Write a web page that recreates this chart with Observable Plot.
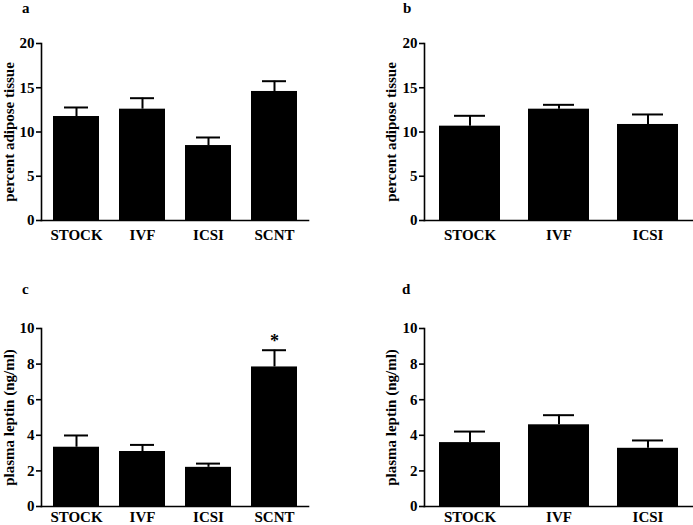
<!DOCTYPE html>
<html><head><meta charset="utf-8">
<script src="https://cdn.jsdelivr.net/npm/d3@7"></script>
<script src="https://cdn.jsdelivr.net/npm/@observablehq/plot@0.6"></script>
<style>
body{margin:0;background:#fff;}
#root{position:relative;width:693px;height:525px;overflow:hidden;font-family:"Liberation Serif","Times New Roman",serif;}
.panel{position:absolute;}
.lab{position:absolute;font-weight:bold;font-size:15px;line-height:1;font-family:"Liberation Serif","Times New Roman",serif;}
</style></head><body><div id="root"></div>
<script>
// Data
const groupsA = ["STOCK", "IVF", "ICSI", "SCNT"];
const groupsB = ["STOCK", "IVF", "ICSI"];
const adiposeA = [11.75, 12.58, 8.47, 14.58];
const adiposeASem = [1.02, 1.24, 0.91, 1.16];
const adiposeB = [10.66, 12.58, 10.85];
const adiposeBSem = [1.17, 0.49, 1.13];
const leptinC = [3.33, 3.09, 2.20, 7.84];
const leptinCSem = [0.66, 0.37, 0.21, 0.94];
const leptinD = [3.59, 4.59, 3.27];
const leptinDSem = [0.62, 0.54, 0.44];
const adiposeTicks = [0, 5, 10, 15, 20];
const leptinTicks = [0, 2, 4, 6, 8, 10];
const adiposeLabel = "percent adipose tissue";
const leptinLabel = "plasma leptin (ng/ml)";
const starGroup = "SCNT";

function panel({cats, means, sems, yTicks, ylabel, width, height, mL, mR, mT, mB, capInset, labelOffset, xPad, star}) {
  const data = cats.map((c, i) => ({cat: c, mean: means[i], top: means[i] + sems[i]}));
  const yMax = yTicks[yTicks.length - 1];
  const marks = [
    Plot.ruleX(data, {x: "cat", y1: "mean", y2: "top", stroke: "black", strokeWidth: 2}),
    Plot.tickY(data, {x: "cat", y: "top", stroke: "black", strokeWidth: 2, insetLeft: capInset, insetRight: capInset}),
    Plot.barY(data, {x: "cat", y: "mean", fill: "black"}),
    Plot.axisY({ticks: yTicks, tickSize: 5, tickPadding: 2, tickFormat: d3.format("d"), label: ylabel,
      labelAnchor: "center", labelArrow: "none", labelOffset: labelOffset, strokeWidth: 1.6}),
    Plot.axisX({tickSize: 0, tickPadding: xPad, label: null}),
    Plot.frame({anchor: "left", stroke: "black", strokeWidth: 1.6}),
    Plot.frame({anchor: "bottom", stroke: "black", strokeWidth: 1.6})
  ];
  if (star) {
    marks.push(Plot.text(data.filter(d => d.cat === star), {x: "cat", y: "top", text: () => "*", lineAnchor: "bottom", dy: -3, fontSize: 18, fontWeight: "bold"}));
  }
  return Plot.plot({
    width, height, marginLeft: mL, marginRight: mR, marginTop: mT, marginBottom: mB,
    style: {fontFamily: "'Liberation Serif', 'Times New Roman', serif", fontWeight: "bold", fontSize: "15px", background: "transparent", overflow: "visible", color: "black"},
    x: {domain: cats, paddingInner: 0.31, paddingOuter: 0.155, label: null},
    y: {domain: [0, yMax], label: null},
    marks
  });
}

const root = document.getElementById("root");
function place(el, left, top) {
  const d = document.createElement("div");
  d.className = "panel";
  d.style.left = left + "px";
  d.style.top = top + "px";
  d.appendChild(el);
  root.appendChild(d);
}
function label(t, left, top) {
  const d = document.createElement("div");
  d.className = "lab";
  d.style.left = left + "px";
  d.style.top = top + "px";
  d.textContent = t;
  root.appendChild(d);
}

place(panel({cats: groupsA, means: adiposeA, sems: adiposeASem, yTicks: adiposeTicks, ylabel: adiposeLabel,
  width: 346, height: 262, mL: 41, mR: 38, mT: 43, mB: 42, capInset: 11, labelOffset: 38, xPad: 9}), 0, 0);
place(panel({cats: groupsB, means: adiposeB, sems: adiposeBSem, yTicks: adiposeTicks, ylabel: adiposeLabel,
  width: 347, height: 262, mL: 78, mR: 0, mT: 43, mB: 42, capInset: 15, labelOffset: 39, xPad: 9}), 346, 0);
place(panel({cats: groupsA, means: leptinC, sems: leptinCSem, yTicks: leptinTicks, ylabel: leptinLabel,
  width: 346, height: 263, mL: 41, mR: 38, mT: 66, mB: 19, capInset: 11, labelOffset: 38, xPad: 5, star: starGroup}), 0, 262);
place(panel({cats: groupsB, means: leptinD, sems: leptinDSem, yTicks: leptinTicks, ylabel: leptinLabel,
  width: 347, height: 263, mL: 78, mR: 0, mT: 66, mB: 19, capInset: 15, labelOffset: 39, xPad: 5}), 346, 262);

label("a", 22, 1);
label("b", 403, 1);
label("c", 22, 282);
label("d", 402, 282);
</script>
</body></html>
